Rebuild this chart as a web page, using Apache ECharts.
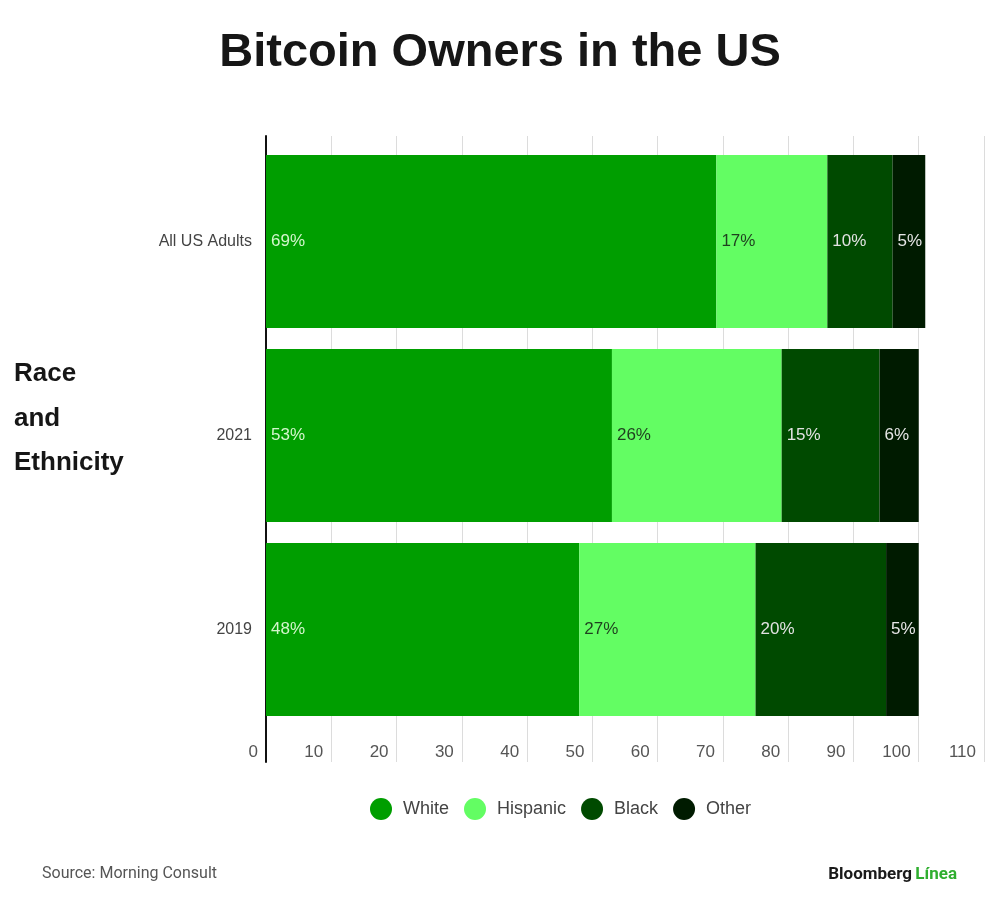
<!DOCTYPE html>
<html>
<head>
<meta charset="utf-8">
<script src="https://cdn.jsdelivr.net/npm/echarts@6/dist/echarts.min.js"></script>
<style>
  html, body { margin: 0; padding: 0; background: #fff; }
  #chart { width: 1000px; height: 918px; }
</style>
</head>
<body>
<div id="chart"></div>
<script>
const categories = ['All US Adults', '2021', '2019']
const white = [69, 53, 48]
const hispanic = [17, 26, 27]
const black = [10, 15, 20]
const other = [5, 6, 5]

const seriesNames = ['White', 'Hispanic', 'Black', 'Other']
const seriesColors = ['#009e00', '#63fd63', '#004a00', '#001b00']
const labelColors = ['#d3f6cc', '#1f3f1f', '#e2e2e2', '#e6e6e6']

const chart = echarts.init(document.getElementById('chart'))

const makeBar = (i, values) => ({
  name: seriesNames[i],
  type: 'bar',
  stack: 'total',
  xAxisIndex: 0,
  yAxisIndex: 0,
  barWidth: 173,
  itemStyle: { color: seriesColors[i] },
  label: {
    show: true,
    position: 'insideLeft',
    distance: 5,
    formatter: '{c}%',
    color: labelColors[i],
    fontSize: 17,
    fontFamily: 'Liberation Sans, Arial, sans-serif'
  },
  emphasis: { disabled: true },
  data: values
})

const option = {
  animation: false,
  backgroundColor: '#fff',
  title: {
    text: 'Bitcoin Owners in the US',
    left: 'center',
    top: 25,
    textStyle: {
      fontSize: 47,
      fontWeight: 'bold',
      color: '#161616',
      fontFamily: 'Liberation Sans, Arial, sans-serif'
    }
  },
  legend: {
    left: 365,
    top: 793,
    icon: 'circle',
    itemWidth: 22,
    itemHeight: 22,
    itemGap: 15,
    textStyle: {
      fontSize: 18,
      color: '#444',
      padding: [0, 0, 0, 6],
      fontFamily: 'Liberation Sans, Arial, sans-serif'
    },
    data: seriesNames
  },
  grid: [
    // bars
    { left: 266, right: 16, top: 144.5, height: 582 },
    // axis lines and gridlines
    { left: 266, right: 16, top: 136, height: 626 }
  ],
  xAxis: [
    { gridIndex: 0, type: 'value', min: 0, max: 110, interval: 10, show: false },
    {
      gridIndex: 1,
      type: 'value',
      min: 0,
      max: 110,
      interval: 10,
      axisLine: { show: false },
      axisTick: { show: false },
      splitLine: { show: true, lineStyle: { color: '#dcdcdc', width: 1 } },
      axisLabel: {
        align: 'right',
        verticalAlign: 'middle',
        margin: -10,
        padding: [0, 8, 0, 0],
        fontSize: 17,
        color: '#555',
        fontFamily: 'Liberation Sans, Arial, sans-serif'
      }
    }
  ],
  yAxis: [
    {
      gridIndex: 0,
      type: 'category',
      inverse: true,
      data: categories,
      axisLine: { show: false },
      axisTick: { show: false },
      axisLabel: {
        margin: 14,
        fontSize: 16,
        color: '#444',
        fontFamily: 'Liberation Sans, Arial, sans-serif'
      }
    },
    {
      gridIndex: 1,
      type: 'value',
      min: 0,
      max: 1,
      axisLine: { show: true, lineStyle: { color: '#111', width: 2 } },
      axisTick: { show: false },
      axisLabel: { show: false },
      splitLine: { show: false }
    }
  ],
  graphic: [
    {
      type: 'text',
      left: 14,
      top: 352,
      style: {
        text: 'Race\nand\nEthnicity',
        fontSize: 26,
        fontWeight: 'bold',
        lineHeight: 44.5,
        fill: '#161616',
        fontFamily: 'Liberation Sans, Arial, sans-serif'
      }
    },
    {
      type: 'text',
      left: 42,
      top: 866,
      style: {
        text: 'Source: Morning Consult',
        fontSize: 16,
        fill: '#555',
        fontFamily: 'Roboto, Liberation Sans, sans-serif'
      }
    },
    {
      type: 'text',
      right: 43,
      top: 866,
      style: {
        text: '{a|Bloomberg} {b|Línea}',
        rich: {
          a: { fontSize: 17, fontWeight: 'bold', fill: '#1a1a1a', fontFamily: 'Roboto, Liberation Sans, sans-serif' },
          b: { fontSize: 17, fontWeight: 'bold', fill: '#2fae2f', fontFamily: 'Roboto, Liberation Sans, sans-serif' }
        }
      }
    }
  ],
  series: [
    makeBar(0, white),
    makeBar(1, hispanic),
    makeBar(2, black),
    makeBar(3, other)
  ]
}

chart.setOption(option)
</script>
</body>
</html>
